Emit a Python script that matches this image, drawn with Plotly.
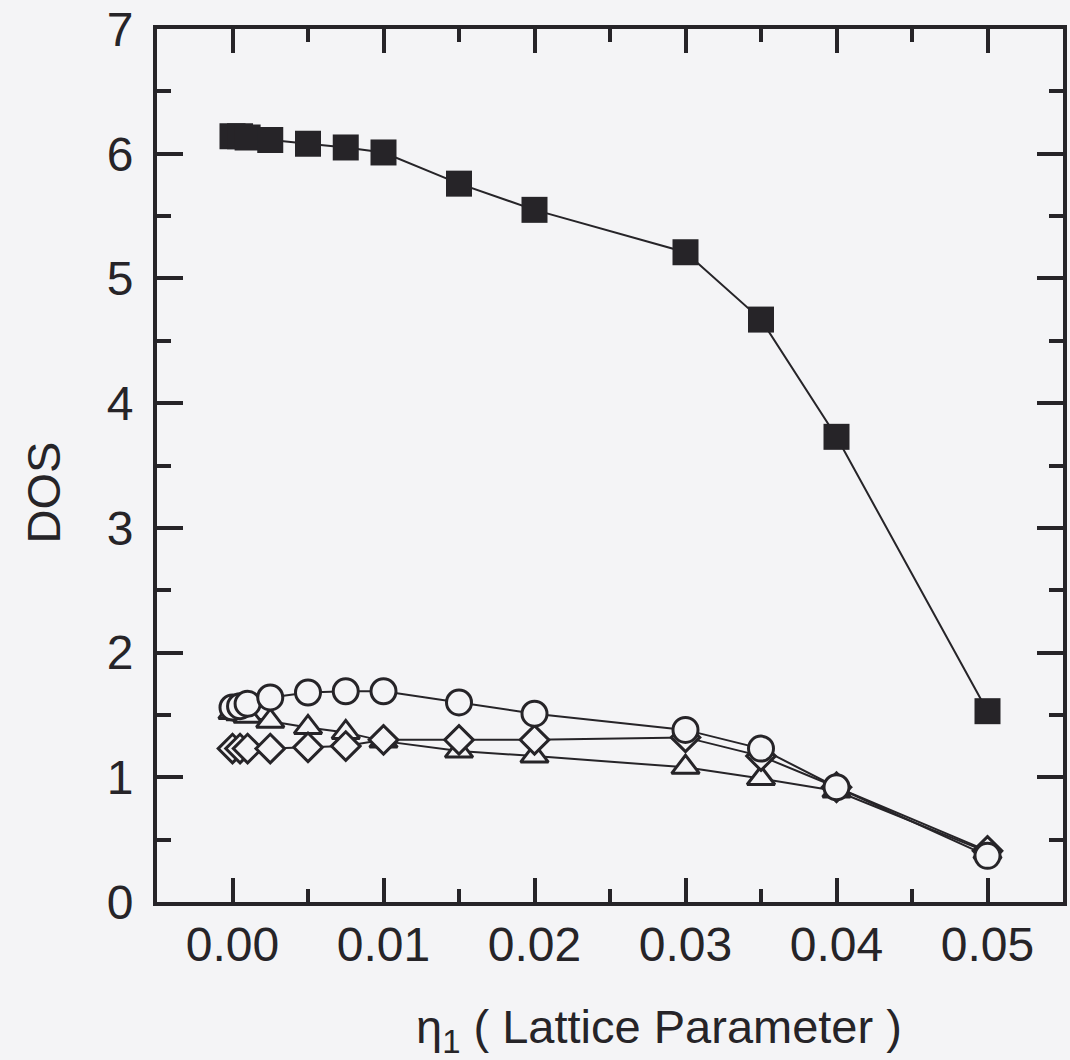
import plotly.graph_objects as go

# Data
eta = [0, 0.0005, 0.001, 0.0025, 0.005, 0.0075, 0.01, 0.015, 0.02, 0.03, 0.035, 0.04, 0.05]
dos_square = [6.14, 6.14, 6.13, 6.11, 6.08, 6.05, 6.01, 5.76, 5.55, 5.21, 4.67, 3.73, 1.53]
dos_circle = [1.56, 1.57, 1.59, 1.64, 1.68, 1.69, 1.69, 1.60, 1.51, 1.38, 1.23, 0.92, 0.37]
dos_triangle = [1.52, 1.51, 1.49, 1.45, 1.40, 1.36, 1.29, 1.21, 1.17, 1.08, 0.99, 0.89, 0.40]
dos_diamond = [1.23, 1.23, 1.23, 1.23, 1.24, 1.25, 1.30, 1.30, 1.30, 1.32, 1.17, 0.92, 0.41]

x_ticks = [0.00, 0.01, 0.02, 0.03, 0.04, 0.05]
x_tick_labels = ["0.00", "0.01", "0.02", "0.03", "0.04", "0.05"]
y_ticks = [0, 1, 2, 3, 4, 5, 6, 7]

INK = "#262428"
BG = "#f4f4f6"
FONT = "Liberation Sans, Arial, sans-serif"

fig = go.Figure()

def add_series(y, symbol, size, filled):
    fig.add_trace(go.Scatter(
        x=eta, y=y, mode="lines+markers",
        line=dict(color=INK, width=2),
        marker=dict(symbol=symbol, size=size,
                    color=INK if filled else BG,
                    line=dict(color=INK, width=0 if filled else 3)),
        showlegend=False, cliponaxis=False,
    ))

add_series(dos_triangle, "triangle-up", 24, False)
add_series(dos_diamond, "diamond", 22, False)
add_series(dos_circle, "circle", 25, False)
add_series(dos_square, "square", 26, True)

axis_common = dict(
    showline=True, linecolor=INK, linewidth=4, mirror="ticks",
    ticks="inside", tickcolor=INK, tickwidth=3.5,
    showgrid=False, zeroline=False,
    tickfont=dict(family=FONT, size=48, color=INK),
)

fig.update_xaxes(
    range=[-0.005, 0.055], tickmode="array", tickvals=x_ticks, ticktext=x_tick_labels,
    ticklen=24, ticklabelstandoff=-3,
    minor=dict(ticks="inside", ticklen=13, tickwidth=3.5, tickcolor=INK, dtick=0.005, tick0=0.005),
    **axis_common,
)
fig.update_yaxes(
    range=[0, 7], tickmode="array", tickvals=y_ticks,
    ticklen=26, ticklabelstandoff=10,
    minor=dict(ticks="inside", ticklen=14, tickwidth=3.5, tickcolor=INK, dtick=0.5, tick0=0.5),
    **axis_common,
)

fig.add_annotation(
    text="DOS", xref="paper", yref="paper", x=-0.1253, y=0.4697,
    textangle=-90, showarrow=False, xanchor="center", yanchor="middle",
    font=dict(family=FONT, size=47, color=INK),
)
fig.add_annotation(
    text="η<sub>1</sub> ( Lattice Parameter )", xref="paper", yref="paper",
    x=0.554, y=-0.1466, showarrow=False, xanchor="center", yanchor="middle",
    font=dict(family=FONT, size=47, color=INK),
)

fig.update_layout(
    width=1070, height=1060,
    margin=dict(l=157, r=3, t=29, b=158),
    paper_bgcolor=BG, plot_bgcolor=BG,
)

fig.write_html("out.html")
